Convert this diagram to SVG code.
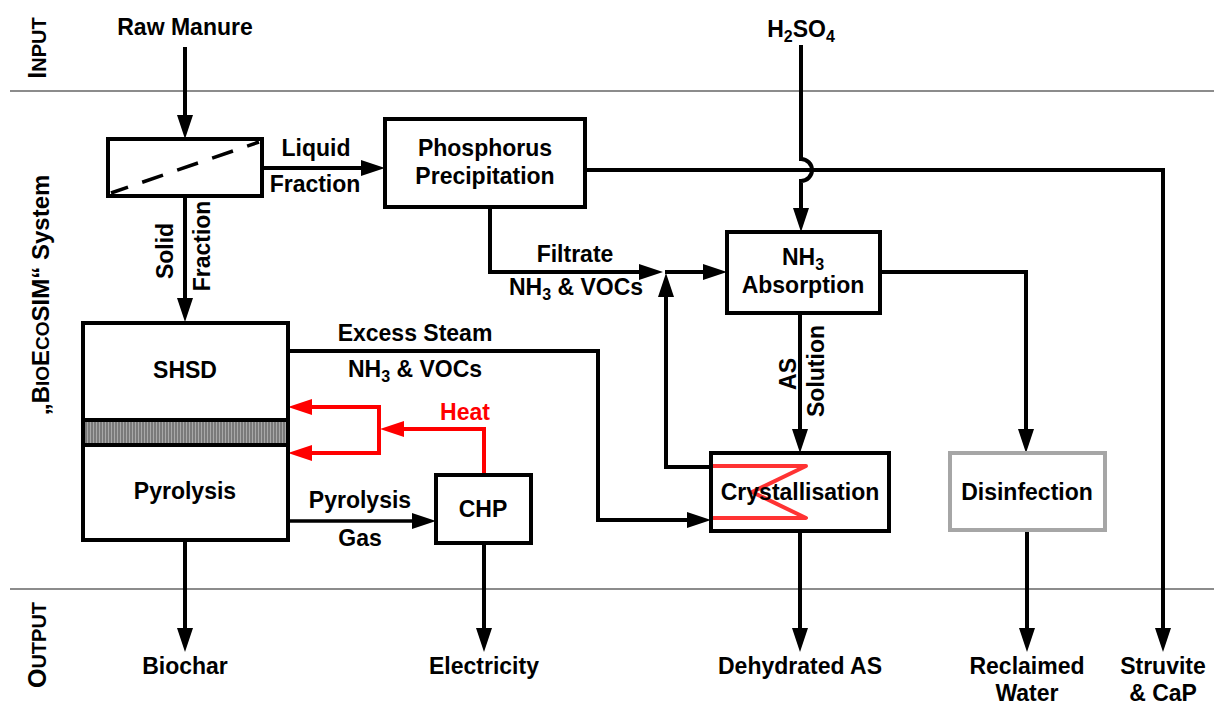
<svg xmlns="http://www.w3.org/2000/svg" width="1214" height="706" viewBox="0 0 1214 706">
<style>
.t{font-family:"Liberation Sans",Arial,sans-serif;font-weight:bold;font-size:23px;fill:#000;text-anchor:middle}
.box{fill:#fff;stroke:#000;stroke-width:4}
.c{fill:none;stroke:#000;stroke-width:4;marker-end:url(#ah)}
.p{fill:none;stroke:#000;stroke-width:4}
.r{fill:none;stroke:#f00;stroke-width:4}
.rc{fill:none;stroke:#f00;stroke-width:4;marker-end:url(#rah)}
.sep{stroke:#666;stroke-width:1.5}
.sub{font-size:16px}
</style>
<defs>
<marker id="ah" viewBox="0 0 24 16" refX="18" refY="8" markerWidth="24" markerHeight="16" markerUnits="userSpaceOnUse" orient="auto"><path d="M0,0 L24,8 L0,16 z" fill="#000"/></marker>
<marker id="rah" viewBox="0 0 24 16" refX="18" refY="8" markerWidth="24" markerHeight="16" markerUnits="userSpaceOnUse" orient="auto"><path d="M0,0 L24,8 L0,16 z" fill="#f00"/></marker>
<pattern id="hatch" width="3" height="4" patternUnits="userSpaceOnUse"><rect width="3" height="4" fill="#7a7a7a"/><rect width="1" height="4" fill="#a8a8a8"/></pattern>
</defs>
<rect width="1214" height="706" fill="#fff"/>

<g id="sections">
<line class="sep" x1="10" y1="91" x2="1214" y2="91"/>
<line class="sep" x1="10" y1="589" x2="1214" y2="589"/>
<text class="t" transform="translate(46,48) rotate(-90)"><tspan font-size="25">I</tspan><tspan font-size="20">NPUT</tspan></text>
<text class="t" transform="translate(49,295) rotate(-90)"><tspan font-size="24">„B</tspan><tspan font-size="19">IO</tspan><tspan font-size="24">E</tspan><tspan font-size="19">CO</tspan><tspan font-size="24">SIM“ System</tspan></text>
<text class="t" transform="translate(46,645) rotate(-90)"><tspan font-size="25">O</tspan><tspan font-size="20">UTPUT</tspan></text>
</g>

<g id="connectors">
<path class="c" d="M185,47 V133"/>
<path class="c" d="M262,168 H379"/>
<path class="c" d="M185,196 V316"/>
<path class="c" d="M585,170 H1163 V646"/>
<path class="c" d="M801,45 V159 A11,11 0 0 1 801,181 V226"/>
<path class="c" d="M490,207 V272 H657"/>
<path class="c" d="M665,272 H721"/>
<path class="c" d="M711,467 H666 V279"/>
<path class="c" d="M880,272 H1026 V447"/>
<path class="c" d="M800,313 V447"/>
<path class="c" d="M288,351 H598 V520 H705"/>
<path class="c" d="M288,521 H430" style="stroke-width:3.5"/>
<path class="c" d="M185,540 V646"/>
<path class="c" d="M484,543 V646"/>
<path class="c" d="M800,531 V646"/>
<path class="c" d="M1027,530 V646"/>
<path class="rc" d="M484,475 V429 H386"/>
<path class="r" d="M379,405 V455"/>
<path class="rc" d="M379,407 H294"/>
<path class="rc" d="M379,453 H294"/>
</g>

<g id="labels">
<text class="t" x="185" y="35">Raw Manure</text>
<text class="t" x="801" y="37">H<tspan class="sub" dy="5">2</tspan><tspan dy="-5">SO</tspan><tspan class="sub" dy="5">4</tspan></text>
<text class="t" x="316" y="156">Liquid</text>
<text class="t" x="315" y="192">Fraction</text>
<text class="t" transform="translate(173,251) rotate(-90)">Solid</text>
<text class="t" transform="translate(210,246) rotate(-90)">Fraction</text>
<text class="t" x="575" y="262">Filtrate</text>
<text class="t" x="576" y="295">NH<tspan class="sub" dy="5">3</tspan><tspan dy="-5"> &amp; VOCs</tspan></text>
<text class="t" x="415" y="341">Excess Steam</text>
<text class="t" x="415" y="377">NH<tspan class="sub" dy="5">3</tspan><tspan dy="-5"> &amp; VOCs</tspan></text>
<text class="t" x="465" y="420" style="fill:#f00">Heat</text>
<text class="t" x="360" y="508">Pyrolysis</text>
<text class="t" x="360" y="546">Gas</text>
<text class="t" transform="translate(796,374) rotate(-90)">AS</text>
<text class="t" transform="translate(824,371) rotate(-90)">Solution</text>
<text class="t" x="185" y="674">Biochar</text>
<text class="t" x="484" y="674">Electricity</text>
<text class="t" x="800" y="674">Dehydrated AS</text>
<text class="t" x="1027" y="674">Reclaimed</text>
<text class="t" x="1027" y="701">Water</text>
<text class="t" x="1163" y="674">Struvite</text>
<text class="t" x="1163" y="701">&amp; CaP</text>
</g>

<g id="separator">
<rect class="box" x="108" y="139" width="154" height="57"/>
<line x1="111" y1="193" x2="259" y2="142" stroke="#000" stroke-width="3.5" stroke-dasharray="22 15" stroke-dashoffset="4"/>
</g>

<g id="phosphorus">
<rect class="box" x="385" y="119" width="200" height="88"/>
<text class="t" x="485" y="156">Phosphorus</text>
<text class="t" x="485" y="184">Precipitation</text>
</g>

<g id="nh3absorption">
<rect class="box" x="727" y="232" width="153" height="81"/>
<text class="t" x="803" y="265">NH<tspan class="sub" dy="5">3</tspan></text>
<text class="t" x="803" y="293">Absorption</text>
</g>

<g id="shsd-pyrolysis">
<rect class="box" x="83" y="323" width="205" height="217"/>
<rect x="85" y="421" width="201" height="23" fill="url(#hatch)"/>
<line x1="83" y1="420" x2="288" y2="420" stroke="#000" stroke-width="4"/>
<line x1="83" y1="445" x2="288" y2="445" stroke="#000" stroke-width="4"/>
<text class="t" x="185" y="378">SHSD</text>
<text class="t" x="185" y="499">Pyrolysis</text>
</g>

<g id="chp">
<rect class="box" x="436" y="475" width="95" height="68"/>
<text class="t" x="483" y="517">CHP</text>
</g>

<g id="crystallisation">
<rect class="box" x="711" y="453" width="178" height="78"/>
<polyline points="713,466 806,466 752,492 806,518 713,518" fill="none" stroke="#f33" stroke-width="4" stroke-linejoin="round"/>
<text class="t" x="800" y="500">Crystallisation</text>
</g>

<g id="disinfection">
<rect x="950" y="453" width="155" height="77" fill="#fff" stroke="#a6a6a6" stroke-width="4"/>
<text class="t" x="1027" y="500">Disinfection</text>
</g>
</svg>
